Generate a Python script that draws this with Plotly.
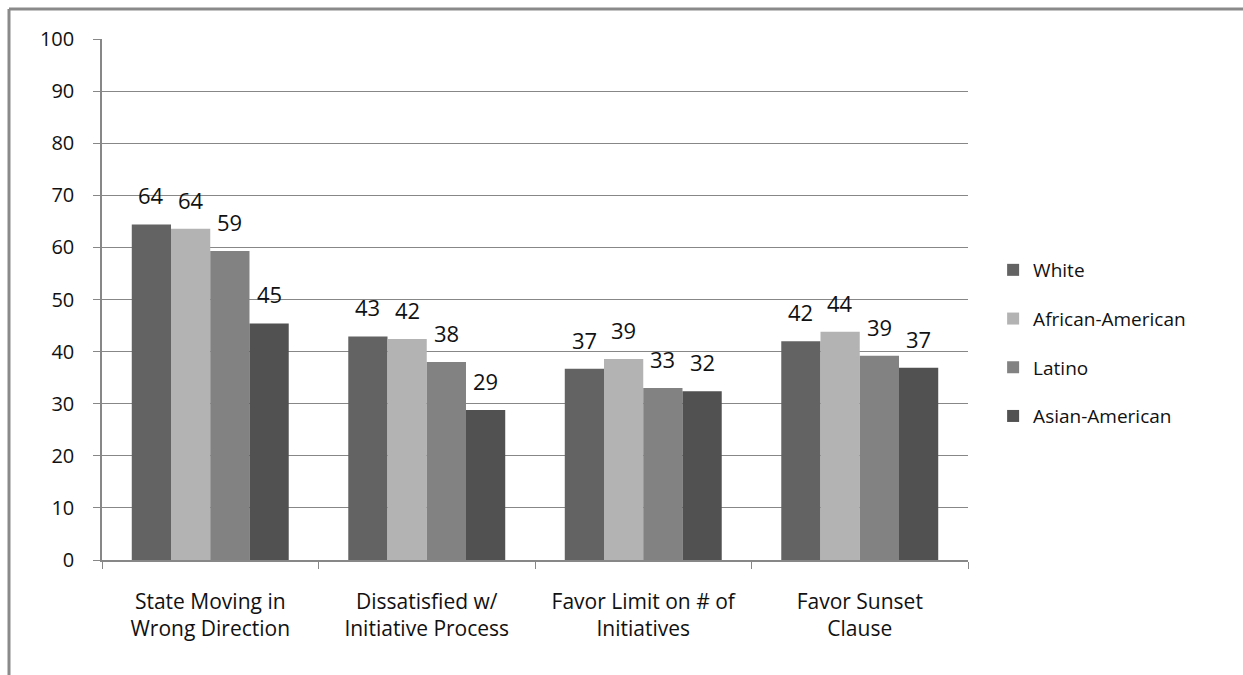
import plotly.graph_objects as go

# Survey results by group (percent)
categories = ["State Moving in<br>Wrong Direction",
              "Dissatisfied w/<br>Initiative Process",
              "Favor Limit on # of<br>Initiatives",
              "Favor Sunset<br>Clause"]
groups = ["White", "African-American", "Latino", "Asian-American"]
white = [64.4, 42.9, 36.7, 42.0]
african_american = [63.6, 42.4, 38.6, 43.8]
latino = [59.3, 38.0, 33.0, 39.2]
asian_american = [45.4, 28.8, 32.4, 36.9]
y_ticks = [0, 10, 20, 30, 40, 50, 60, 70, 80, 90, 100]

series = [white, african_american, latino, asian_american]
colors = ["#636363", "#b3b3b3", "#828282", "#515151"]

W, H = 1243, 675
M_L, M_R, M_T, M_B = 102, 275, 39, 115
BARGAP = 0.275
FONT = "'Open Sans', Lato, sans-serif"
GRID = "#878787"

fig = go.Figure()
for i, (name, vals) in enumerate(zip(groups, series)):
    fig.add_trace(go.Bar(
        name=name, x=categories, y=vals,
        marker=dict(color=colors[i], line=dict(width=0)),
        legendgroup=name,
    ))

# value labels above each bar, placed at the bar's grouped offset
bar_w = (1 - BARGAP) / len(groups)
for i, vals in enumerate(series):
    off = (i - (len(groups) - 1) / 2) * bar_w
    for c, v in enumerate(vals):
        fig.add_annotation(
            x=c + off, y=v, xref="x", yref="y",
            text=f"{v:.0f}", showarrow=False,
            yanchor="bottom", yshift=12,
            font=dict(family=FONT, size=22, color="#111111"),
        )

# chart frame (left and top edges)
plot_w = W - M_L - M_R
plot_h = H - M_T - M_B
fx = (9 - M_L) / plot_w
fy = 1 + (M_T - 9) / plot_h
fig.add_shape(type="line", xref="paper", yref="paper",
              x0=fx, x1=(W + 10 - M_L) / plot_w, y0=fy, y1=fy,
              line=dict(color="#8a8a8a", width=3))
fig.add_shape(type="line", xref="paper", yref="paper",
              x0=fx, x1=fx, y0=fy, y1=-(M_B + 10) / plot_h,
              line=dict(color="#8a8a8a", width=3))

fig.update_layout(
    width=W, height=H,
    margin=dict(l=M_L, r=M_R, t=M_T, b=M_B),
    barmode="group", bargap=BARGAP, bargroupgap=0,
    plot_bgcolor="white", paper_bgcolor="white",
    font=dict(family=FONT, color="#111111"),
    showlegend=True,
    legend=dict(
        x=1.029, y=0.4165, xanchor="left", yanchor="middle",
        font=dict(family=FONT, size=19, color="#111111"),
        tracegroupgap=21, itemwidth=30,
        bgcolor="rgba(0,0,0,0)",
    ),
)
fig.update_yaxes(
    range=[0, 100], tickvals=y_ticks,
    showgrid=True, gridcolor=GRID, gridwidth=1,
    showline=True, linecolor=GRID, linewidth=1.5,
    ticks="outside", ticklen=7, tickcolor=GRID,
    ticklabelstandoff=15,
    tickfont=dict(family=FONT, size=20, color="#111111"),
    zeroline=False,
)
fig.update_xaxes(
    showline=True, linecolor=GRID, linewidth=1.5,
    ticks="outside", ticklen=7, tickcolor=GRID, tickson="boundaries",
    tickfont=dict(family=FONT, size=21, color="#111111"),
    ticklabelstandoff=22,
)

fig.write_html("out.html")
